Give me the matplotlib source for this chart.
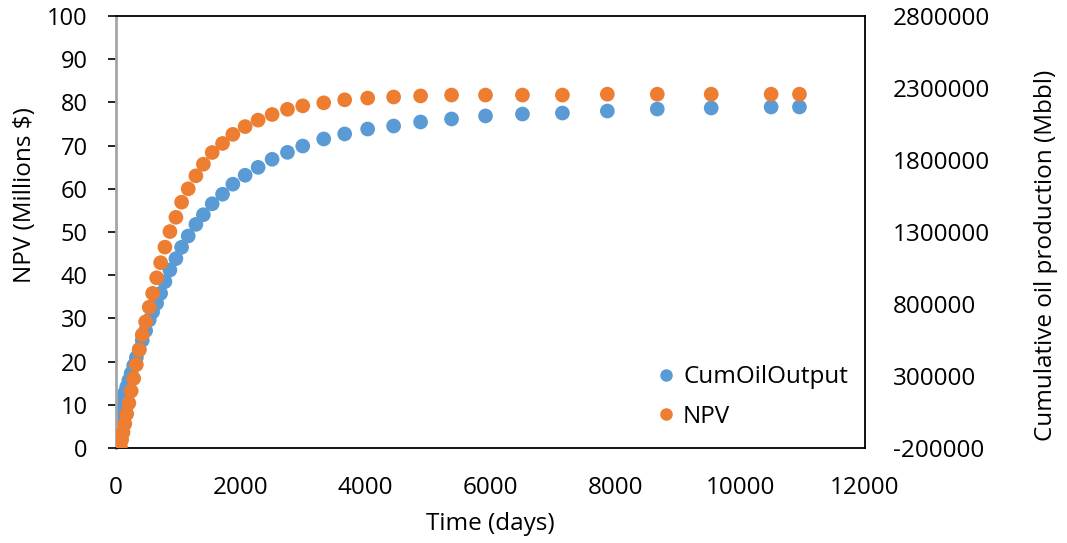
import matplotlib
matplotlib.use("Agg")
import matplotlib.pyplot as plt
from matplotlib.lines import Line2D

# ---- data ----
time_days = [0, 70, 90, 113, 141, 172, 206, 243, 283, 326, 372, 421, 475, 533, 587,
             651, 715, 784, 864, 960, 1051, 1157, 1280, 1400, 1541, 1707, 1872, 2069,
             2277, 2501, 2747, 2992, 3328, 3664, 4032, 4448, 4880, 5376, 5920, 6512,
             7152, 7872, 8672, 9536, 10496, 10950]

cum_oil = [0, 91000, 117000, 147000, 184000, 224000, 270000, 318000, 372000, 428000,
           485000, 548000, 615000, 690000, 745000, 805000, 874000, 955000, 1036000,
           1115000, 1194000, 1272000, 1353000, 1420000, 1496000, 1562500, 1632000,
           1694000, 1749000, 1805000, 1853000, 1897000, 1946000, 1981000, 2015000,
           2036000, 2064000, 2085000, 2106000, 2119000, 2126000, 2140000, 2154000,
           2161000, 2168000, 2168000]

# NPV reported from the first time step onward
npv_days = time_days[1:]
npv = [0.3, 1.9, 3.6, 5.6, 7.9, 10.4, 13.2, 16.1, 19.3, 22.7, 26.2, 29.2, 32.6, 35.8,
       39.4, 42.9, 46.5, 50.1, 53.4, 56.9, 60.0, 63.0, 65.7, 68.4, 70.5, 72.6, 74.4,
       75.9, 77.2, 78.4, 79.2, 79.9, 80.6, 81.0, 81.25, 81.5, 81.7, 81.7, 81.7, 81.7,
       81.9, 81.9, 81.9, 81.9, 81.9]

x_ticks = [0, 2000, 4000, 6000, 8000, 10000, 12000]
left_ticks = [0, 10, 20, 30, 40, 50, 60, 70, 80, 90, 100]
right_ticks = [-200000, 300000, 800000, 1300000, 1800000, 2300000, 2800000]

BLUE = "#5B9BD5"
ORANGE = "#ED7D31"
FONT = "Open Sans"

plt.rcParams["font.family"] = [FONT, "DejaVu Sans"]

W, H = 1067, 543
fig = plt.figure(figsize=(W / 100, H / 100), dpi=100)
L, R, T, B = 116, 865, 16, 448
ax = fig.add_axes([L / W, 1 - B / H, (R - L) / W, (B - T) / H])
ax2 = ax.twinx()

# Blue (right axis) behind, orange (left axis) on top
ax2.scatter(time_days, cum_oil, s=112, color=BLUE, edgecolors="none", zorder=2)
ax.scatter(npv_days, npv, s=112, color=ORANGE, edgecolors="none", zorder=3)

ax.set_zorder(ax2.get_zorder() + 1)
ax.patch.set_visible(False)

ax.set_xlim(0, 12000)
ax.set_ylim(0, 100)
ax2.set_ylim(-200000, 2800000)

ax.set_xticks(x_ticks)
ax.set_xticklabels([str(v) for v in x_ticks])
ax.set_yticks(left_ticks)
ax.set_yticklabels([str(v) for v in left_ticks])
ax2.set_yticks(right_ticks)
ax2.set_yticklabels([str(v) for v in right_ticks])

ax.tick_params(axis="x", length=0, pad=20, labelsize=17.5, colors="black")
ax.tick_params(axis="y", direction="out", length=5.8, width=1.2, pad=14.5,
               labelsize=17, colors="black")
ax2.tick_params(axis="y", length=0, pad=20, labelsize=17.5, colors="black")

for s in ["top", "right", "bottom"]:
    ax.spines[s].set_color("black")
    ax.spines[s].set_linewidth(1.3)
ax.spines["left"].set_color("#A6A6A6")
ax.spines["left"].set_linewidth(2.0)
for s in ax2.spines.values():
    s.set_visible(False)

fig.text(25 / W, 1 - 195 / H, "NPV (Millions $)", rotation=90, ha="center",
         va="center", fontsize=17.5)
fig.text(1046 / W, 1 - 255 / H, "Cumulative oil production (Mbbl)", rotation=90,
         ha="center", va="center", fontsize=17.5)
fig.text(490 / W, 1 - 524 / H, "Time (days)", ha="center", va="center", fontsize=17.5)

handles = [Line2D([], [], marker="o", linestyle="none", color=BLUE, markersize=8),
           Line2D([], [], marker="o", linestyle="none", color=ORANGE, markersize=8)]
leg = ax.legend(handles, ["CumOilOutput", "NPV"], loc="lower right",
                bbox_to_anchor=(1.0, 0.005), frameon=False, fontsize=17.5,
                handletextpad=0.2, labelspacing=0.65, handlelength=1.0,
                borderaxespad=0.3)

fig.savefig("out.png", dpi=100)
